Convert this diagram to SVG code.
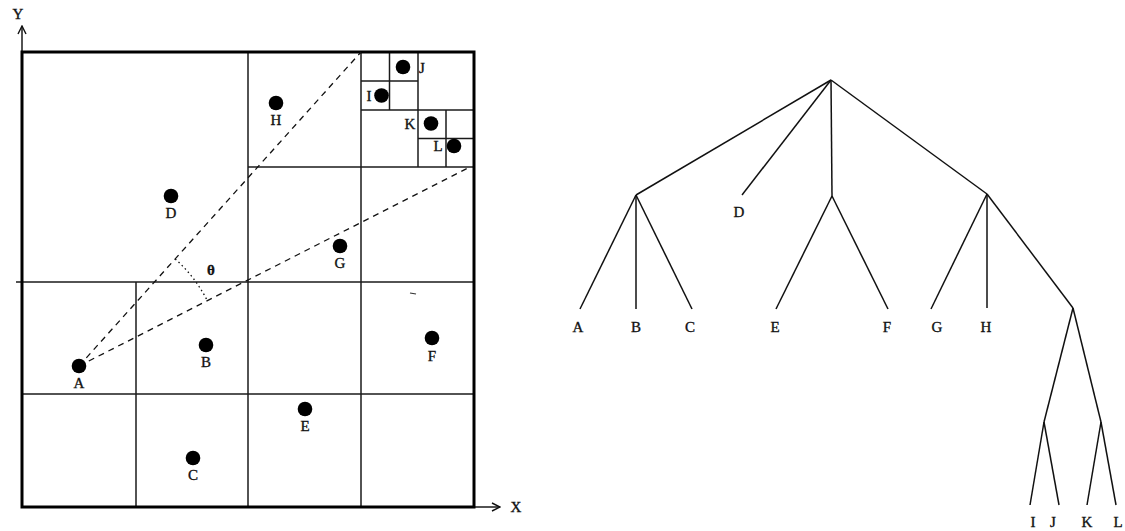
<svg xmlns="http://www.w3.org/2000/svg" width="1125" height="531" viewBox="0 0 1125 531">
  <defs>
    <marker id="arrow" viewBox="0 0 10 10" refX="9" refY="5" markerWidth="10" markerHeight="10" markerUnits="userSpaceOnUse" orient="auto">
      <polyline points="1,1 9,5 1,9" fill="none" stroke="#111" stroke-width="1.4"/>
    </marker>
  </defs>
  <style>
    .lbl { font-family: "Liberation Serif", "Times New Roman", serif; font-size: 15px; fill: #111; stroke: #111; stroke-width: 0.35; text-anchor: middle; }
    .grid { stroke: #1a1a1a; stroke-width: 1.5; fill: none; }
    .frame { stroke: #000; stroke-width: 3; fill: none; }
    .dash { stroke: #111; stroke-width: 1.3; stroke-dasharray: 6 5; fill: none; }
    .dot { fill: #000; }
    .edge { stroke: #111; stroke-width: 1.5; fill: none; }
  </style>
  <rect width="1125" height="531" fill="#fff"/>

  <!-- quadtree space -->
  <g id="space">
    <line class="grid" x1="22" y1="52" x2="22" y2="26" marker-end="url(#arrow)"/>
    <line class="grid" x1="474" y1="507" x2="500" y2="507" marker-end="url(#arrow)"/>
    <text class="lbl" x="18" y="19">Y</text>
    <text class="lbl" x="516" y="512">X</text>

    <!-- level 1 -->
    <line class="grid" x1="248" y1="52" x2="248" y2="507"/>
    <line class="grid" x1="16" y1="282" x2="474" y2="282"/>
    <!-- level 2 -->
    <line class="grid" x1="136" y1="282" x2="136" y2="507"/>
    <line class="grid" x1="22" y1="394" x2="474" y2="394"/>
    <line class="grid" x1="361" y1="52" x2="361" y2="507"/>
    <line class="grid" x1="248" y1="167" x2="474" y2="167"/>
    <!-- level 3 -->
    <line class="grid" x1="418" y1="52" x2="418" y2="167"/>
    <line class="grid" x1="361" y1="110" x2="474" y2="110"/>
    <!-- level 4 -->
    <line class="grid" x1="389.5" y1="52" x2="389.5" y2="110"/>
    <line class="grid" x1="361" y1="81" x2="418" y2="81"/>
    <line class="grid" x1="446" y1="110" x2="446" y2="167"/>
    <line class="grid" x1="418" y1="138.5" x2="474" y2="138.5"/>

    <rect class="frame" x="22" y="52" width="452" height="455"/>

    <!-- viewing cone from A -->
    <line class="dash" x1="79" y1="366" x2="361" y2="52"/>
    <line class="dash" x1="79" y1="366" x2="470" y2="167"/>
    <path d="M175.2,258.9 A144,144 0 0 1 207.6,301.2" fill="none" stroke="#111" stroke-width="1.3" stroke-dasharray="1.5 3"/>
    <text class="lbl" x="211" y="275" font-weight="bold" font-size="15">θ</text>
    <line x1="410" y1="293" x2="416" y2="294" stroke="#333" stroke-width="1.2"/>
  </g>

  <g id="pt-A"><circle class="dot" cx="79" cy="366" r="7.3"/><text class="lbl" x="79" y="388">A</text></g>
  <g id="pt-B"><circle class="dot" cx="206" cy="345" r="7.3"/><text class="lbl" x="206" y="367">B</text></g>
  <g id="pt-C"><circle class="dot" cx="193" cy="458" r="7.3"/><text class="lbl" x="193" y="480">C</text></g>
  <g id="pt-D"><circle class="dot" cx="171" cy="196" r="7.3"/><text class="lbl" x="171" y="218">D</text></g>
  <g id="pt-E"><circle class="dot" cx="305" cy="409" r="7.3"/><text class="lbl" x="305" y="431">E</text></g>
  <g id="pt-F"><circle class="dot" cx="432" cy="338" r="7.3"/><text class="lbl" x="432" y="361">F</text></g>
  <g id="pt-G"><circle class="dot" cx="340" cy="246" r="7.3"/><text class="lbl" x="340" y="268">G</text></g>
  <g id="pt-H"><circle class="dot" cx="276" cy="103" r="7.3"/><text class="lbl" x="276" y="125">H</text></g>
  <g id="pt-I"><circle class="dot" cx="381.5" cy="95.5" r="7.3"/><text class="lbl" x="369" y="101">I</text></g>
  <g id="pt-J"><circle class="dot" cx="403" cy="67" r="7.3"/><text class="lbl" x="422" y="73">J</text></g>
  <g id="pt-K"><circle class="dot" cx="431" cy="123.5" r="7.3"/><text class="lbl" x="410" y="129">K</text></g>
  <g id="pt-L"><circle class="dot" cx="454" cy="146" r="7.3"/><text class="lbl" x="438" y="151">L</text></g>

  <!-- tree edges -->
  <g id="connectors">
    <line class="edge" x1="831" y1="80" x2="636" y2="195"/>
    <line class="edge" x1="831" y1="80" x2="742" y2="195"/>
    <line class="edge" x1="831" y1="80" x2="832" y2="196"/>
    <line class="edge" x1="831" y1="80" x2="987" y2="194"/>
    <line class="edge" x1="636" y1="195" x2="580" y2="309"/>
    <line class="edge" x1="636" y1="195" x2="636" y2="309"/>
    <line class="edge" x1="636" y1="195" x2="692" y2="309"/>
    <line class="edge" x1="832" y1="196" x2="776" y2="309"/>
    <line class="edge" x1="832" y1="196" x2="888" y2="309"/>
    <line class="edge" x1="987" y1="194" x2="931" y2="309"/>
    <line class="edge" x1="987" y1="194" x2="987" y2="308"/>
    <line class="edge" x1="987" y1="194" x2="1073" y2="308"/>
    <line class="edge" x1="1073" y1="308" x2="1044" y2="422"/>
    <line class="edge" x1="1073" y1="308" x2="1101" y2="422"/>
    <line class="edge" x1="1044" y1="422" x2="1030" y2="505"/>
    <line class="edge" x1="1044" y1="422" x2="1059" y2="505"/>
    <line class="edge" x1="1101" y1="422" x2="1087" y2="505"/>
    <line class="edge" x1="1101" y1="422" x2="1116" y2="505"/>
  </g>

  <!-- tree leaves -->
  <g id="leaf-A"><text class="lbl" x="578" y="332">A</text></g>
  <g id="leaf-B"><text class="lbl" x="636" y="332">B</text></g>
  <g id="leaf-C"><text class="lbl" x="690" y="332">C</text></g>
  <g id="leaf-D"><text class="lbl" x="739" y="217">D</text></g>
  <g id="leaf-E"><text class="lbl" x="775" y="332">E</text></g>
  <g id="leaf-F"><text class="lbl" x="887" y="332">F</text></g>
  <g id="leaf-G"><text class="lbl" x="937" y="332">G</text></g>
  <g id="leaf-H"><text class="lbl" x="986" y="332">H</text></g>
  <g id="leaf-I"><text class="lbl" x="1033" y="527">I</text></g>
  <g id="leaf-J"><text class="lbl" x="1053" y="527">J</text></g>
  <g id="leaf-K"><text class="lbl" x="1087" y="527">K</text></g>
  <g id="leaf-L"><text class="lbl" x="1118" y="527">L</text></g>
</svg>
